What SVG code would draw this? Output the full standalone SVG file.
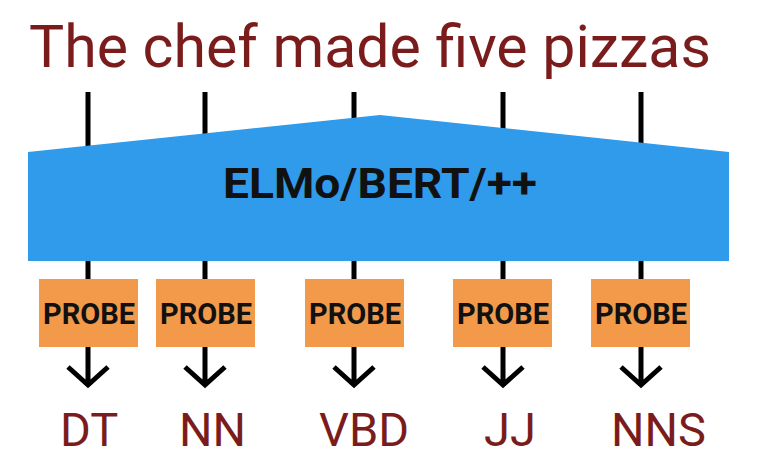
<svg xmlns="http://www.w3.org/2000/svg" width="758" height="476" viewBox="0 0 758 476">
<style>
.title{font-family:Roboto,"Liberation Sans",sans-serif;font-size:59px;fill:#7b1c1c}
.tag{font-family:Roboto,"Liberation Sans",sans-serif;font-size:47px;fill:#7b1c1c}
.ln{stroke:#000;stroke-width:5;fill:none}
.probe{fill:#f29a4a}
.pt{font-family:Roboto,"Liberation Sans",sans-serif;font-weight:bold;font-size:29px;fill:#111;text-anchor:middle}
.mt{font-family:Roboto,"Liberation Sans",sans-serif;font-weight:bold;font-size:42px;fill:#111;text-anchor:middle}
</style>
<rect width="758" height="476" fill="#fff"/>
<text class="title" x="29" y="67">The chef made five pizzas</text>
<g id="connectors">
<line class="ln" x1="88" y1="92" x2="88" y2="280"/>
<line class="ln" x1="205" y1="92" x2="205" y2="280"/>
<line class="ln" x1="354" y1="92" x2="354" y2="280"/>
<line class="ln" x1="503" y1="92" x2="503" y2="280"/>
<line class="ln" x1="641" y1="92" x2="641" y2="280"/>
<g id="arrows">
<path class="ln" d="M88 346V384M68 367L88 385L108 367"/>
<path class="ln" d="M205 346V384M185 367L205 385L225 367"/>
<path class="ln" d="M354 346V384M334 367L354 385L374 367"/>
<path class="ln" d="M503 346V384M483 367L503 385L523 367"/>
<path class="ln" d="M641 346V384M621 367L641 385L661 367"/>
</g>
</g>
<g id="encoder">
<polygon points="28,152 380,115 729,152 729,261 28,261" fill="#2f9bea"/>
<text class="mt" x="380" y="198" textLength="314" lengthAdjust="spacingAndGlyphs">ELMo/BERT/++</text>
</g>
<g id="probe1"><rect class="probe" x="39" y="279" width="99" height="68"/><text class="pt" x="89" y="324">PROBE</text></g>
<g id="probe2"><rect class="probe" x="156" y="279" width="99" height="68"/><text class="pt" x="206" y="324">PROBE</text></g>
<g id="probe3"><rect class="probe" x="305" y="279" width="99" height="68"/><text class="pt" x="355" y="324">PROBE</text></g>
<g id="probe4"><rect class="probe" x="453" y="279" width="99" height="68"/><text class="pt" x="503" y="324">PROBE</text></g>
<g id="probe5"><rect class="probe" x="591" y="279" width="99" height="68"/><text class="pt" x="641" y="324">PROBE</text></g>
<g id="tags">
<text class="tag" x="60" y="446">DT</text>
<text class="tag" x="179" y="446">NN</text>
<text class="tag" x="319" y="446">VBD</text>
<text class="tag" x="484" y="446">JJ</text>
<text class="tag" x="611" y="446">NNS</text>
</g>
</svg>
